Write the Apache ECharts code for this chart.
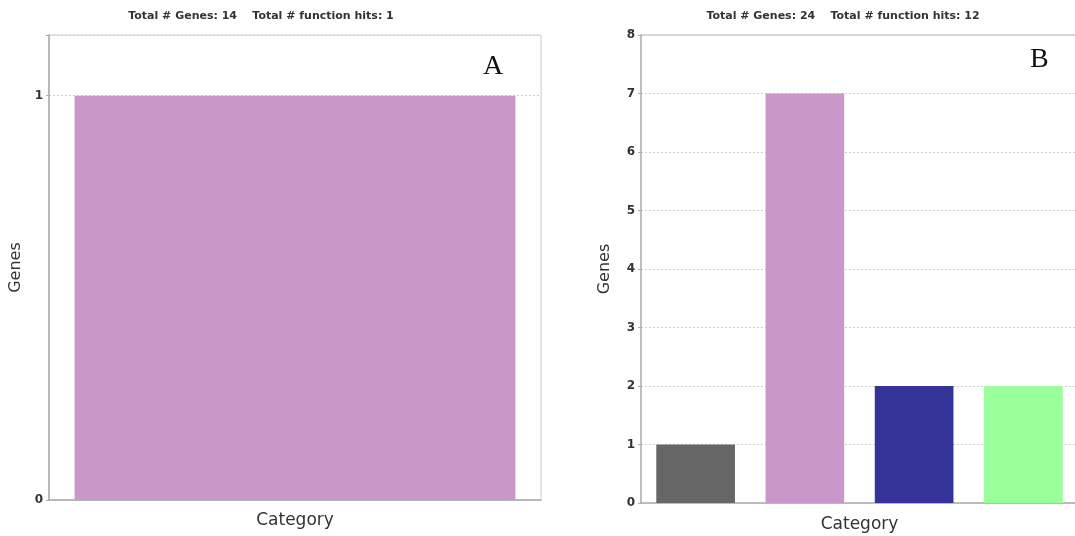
<!DOCTYPE html>
<html>
<head>
<meta charset="utf-8">
<script src="https://cdn.jsdelivr.net/npm/echarts@6/dist/echarts.min.js"></script>
<style>html,body{margin:0;padding:0;background:#fff}#c{width:1075px;height:536px}</style>
</head>
<body>
<div id="c"></div>
<script>
const titleA = 'Total # Genes: 14    Total # function hits: 1';
const titleB = 'Total # Genes: 24    Total # function hits: 12';
const categoriesA = ['Category 1'];
const valuesA = [1];
const colorsA = ['#c997c9'];
const categoriesB = ['Category 1', 'Category 2', 'Category 3', 'Category 4'];
const valuesB = [1, 7, 2, 2];
const colorsB = ['#666666', '#c997c9', '#333399', '#99ff99'];
const panelLabels = ['A', 'B'];

const chart = echarts.init(document.getElementById('c'), null, {renderer: 'canvas'});
const tickFont = {color: '#333', fontSize: 12, fontFamily: 'DejaVu Sans', fontWeight: 'bold'};
const nameFont = {color: '#333', fontSize: 16, fontFamily: 'DejaVu Sans'};
const xNameFont = {color: '#333', fontSize: 17, fontFamily: 'DejaVu Sans'};
const split = {show: true, lineStyle: {color: '#cfcfcf', type: [2, 2], width: 1}};
const intFmt = v => (Math.abs(v - Math.round(v)) < 1e-9 ? String(Math.round(v)) : '');

chart.setOption({
  animation: false,
  title: [
    {text: titleA, left: 256, top: 6, textAlign: 'center',
     textStyle: {fontSize: 11, fontWeight: 'bold', color: '#333', fontFamily: 'DejaVu Sans'}},
    {text: titleB, left: 838, top: 6, textAlign: 'center',
     textStyle: {fontSize: 11, fontWeight: 'bold', color: '#333', fontFamily: 'DejaVu Sans'}}
  ],
  grid: [
    {left: 49, top: 35, width: 492, height: 465, show: true, borderColor: '#cccccc', borderWidth: 1,
     backgroundColor: 'transparent', outerBoundsMode: 'none', containLabel: false},
    {left: 641, top: 35, width: 437, height: 468, show: false, outerBoundsMode: 'none', containLabel: false}
  ],
  xAxis: [
    {type: 'category', gridIndex: 0, data: categoriesA, name: 'Category', nameLocation: 'middle', nameGap: 12,
     nameTextStyle: xNameFont, axisLabel: {show: false}, axisTick: {show: false},
     axisLine: {lineStyle: {color: '#aaaaaa', width: 1.5}}},
    {type: 'category', gridIndex: 1, data: categoriesB, name: 'Category', nameLocation: 'middle', nameGap: 13,
     nameTextStyle: xNameFont, axisLabel: {show: false}, axisTick: {show: false},
     axisLine: {lineStyle: {color: '#aaaaaa', width: 1.5}}}
  ],
  yAxis: [
    {type: 'value', gridIndex: 0, min: 0, max: 1.15, interval: 1, name: 'Genes', nameLocation: 'middle', nameGap: 25,
     nameTextStyle: nameFont, axisLabel: {formatter: intFmt, margin: 6, textStyle: tickFont}, axisTick: {show: true, length: 3, lineStyle: {color: '#aaa'}},
     axisLine: {show: true, lineStyle: {color: '#aaaaaa', width: 1.5}}, splitLine: split},
    {type: 'value', gridIndex: 1, min: 0, max: 8, interval: 1, name: 'Genes', nameLocation: 'middle', nameGap: 28,
     nameTextStyle: nameFont, axisLabel: {margin: 6, textStyle: tickFont}, axisTick: {show: true, length: 3, lineStyle: {color: '#aaa'}},
     axisLine: {show: true, lineStyle: {color: '#aaaaaa', width: 1.5}}, splitLine: split}
  ],
  series: [
    {type: 'bar', xAxisIndex: 0, yAxisIndex: 0, barWidth: '89.6%',
     data: valuesA.map((v, i) => ({value: v, itemStyle: {color: colorsA[i]}}))},
    {type: 'bar', xAxisIndex: 1, yAxisIndex: 1, barWidth: '72%',
     data: valuesB.map((v, i) => ({value: v, itemStyle: {color: colorsB[i]}}))}
  ],
  graphic: [
    {type: 'text', left: 483, top: 53, style: {text: panelLabels[0], font: '28px "Liberation Serif"', fill: '#111'}},
    {type: 'text', left: 1030, top: 46, style: {text: panelLabels[1], font: '28px "Liberation Serif"', fill: '#111'}},
    {type: 'line', shape: {x1: 641, y1: 35, x2: 1075, y2: 35}, style: {stroke: '#cccccc', lineWidth: 1.5}}
  ]
});
</script>
</body>
</html>
